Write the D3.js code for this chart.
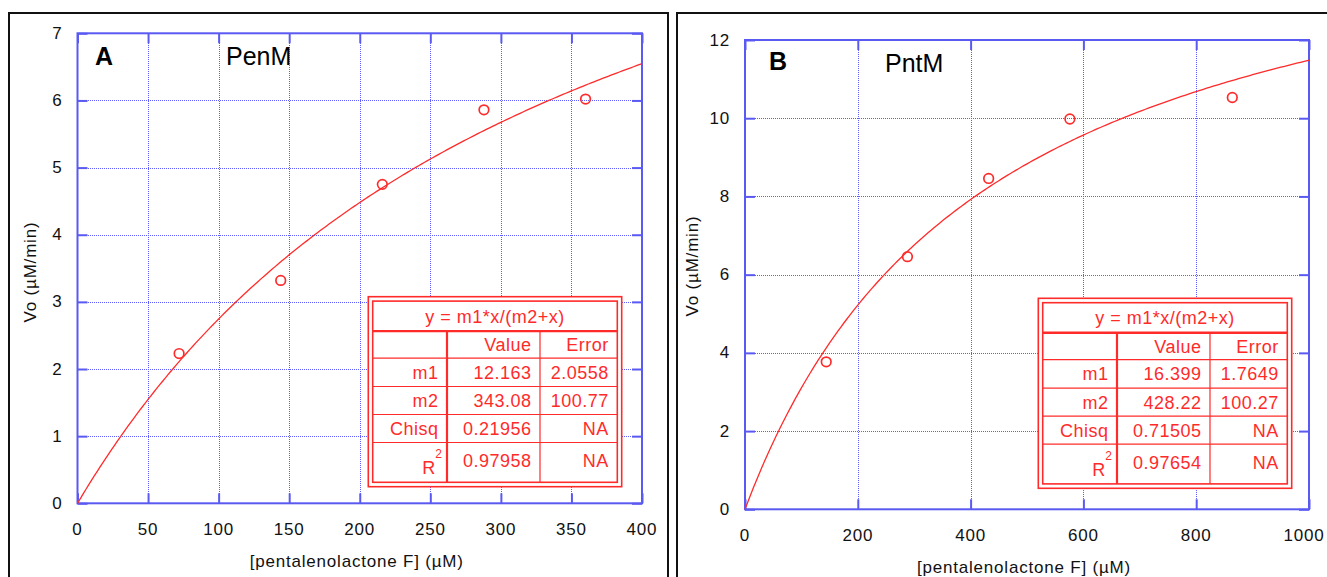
<!DOCTYPE html>
<html>
<head>
<meta charset="utf-8">
<script src="https://cdn.jsdelivr.net/npm/d3@7/dist/d3.min.js"></script>
<style>
  html, body { margin: 0; padding: 0; background: #fff; }
  svg { display: block; }
  text { font-family: "Liberation Sans", Arial, Helvetica, sans-serif; }
</style>
</head>
<body>
<svg id="chart" width="1327" height="577"></svg>
<script>
// ---- Panel A: PenM ----
const penmConc = [72, 144, 216, 288, 360];           // [pentalenolactone F] (µM)
const penmRate = [2.23, 3.32, 4.75, 5.86, 6.02];     // Vo (µM/min)
const penmXTicks = [0, 50, 100, 150, 200, 250, 300, 350, 400];
const penmYTicks = [0, 1, 2, 3, 4, 5, 6, 7];
const penmParamNames = ["m1", "m2"];
const penmParamValues = [12.163, 343.08];
const penmParamErrors = [2.0558, 100.77];
const penmChisq = 0.21956;
const penmR2 = 0.97958;

// ---- Panel B: PntM ----
const pntmConc = [144, 288, 432, 576, 864];
const pntmRate = [3.77, 6.46, 8.46, 9.98, 10.53];
const pntmXTicks = [0, 200, 400, 600, 800, 1000];
const pntmYTicks = [0, 2, 4, 6, 8, 10, 12];
const pntmParamNames = ["m1", "m2"];
const pntmParamValues = [16.399, 428.22];
const pntmParamErrors = [1.7649, 100.27];
const pntmChisq = 0.71505;
const pntmR2 = 0.97654;

const fitEquation = "y = m1*x/(m2+x)";
const xTitle = "[pentalenolactone F] (µM)";
const yTitle = "Vo (µM/min)";

const BLUE = "#5a5af2";
const GRID = "#5c5cff";
const RED = "#ff2b2b";

const svg = d3.select("#chart");
const crisp = v => Math.round(v) + 0.5;

function drawPanel(cfg) {
  const g = svg.append("g");

  // outer black frame (open at the bottom)
  g.append("path")
    .attr("d", `M${cfg.frame.left},600 V${cfg.frame.top} H${cfg.frame.right} V600`)
    .attr("fill", "none").attr("stroke", "#111").attr("stroke-width", 2);

  const x = d3.scaleLinear().domain(cfg.xDomain).range([cfg.plot.left, cfg.plot.right]);
  const y = d3.scaleLinear().domain(cfg.yDomain).range([cfg.plot.bottom, cfg.plot.top]);

  // dotted grid
  g.append("g").attr("shape-rendering", "crispEdges").selectAll("line")
    .data(cfg.xTicks.slice(1, -1)).join("line")
    .attr("x1", d => crisp(x(d))).attr("x2", d => crisp(x(d)))
    .attr("y1", cfg.plot.top).attr("y2", cfg.plot.bottom)
    .attr("stroke", GRID).attr("stroke-width", 1).attr("stroke-dasharray", "1,1");
  g.append("g").attr("shape-rendering", "crispEdges").selectAll("line")
    .data(cfg.yTicks.slice(1, -1)).join("line")
    .attr("y1", d => crisp(y(d))).attr("y2", d => crisp(y(d)))
    .attr("x1", cfg.plot.left).attr("x2", cfg.plot.right)
    .attr("stroke", GRID).attr("stroke-width", 1).attr("stroke-dasharray", "1,1");

  // inward ticks on all four sides
  const T = 10;
  const ax = d3.axisBottom(x).tickValues(cfg.xTicks).tickSize(-T).tickFormat("");
  const axTop = d3.axisTop(x).tickValues(cfg.xTicks).tickSize(-T).tickFormat("");
  const ay = d3.axisLeft(y).tickValues(cfg.yTicks).tickSize(-T).tickFormat("");
  const ayR = d3.axisRight(y).tickValues(cfg.yTicks).tickSize(-T).tickFormat("");
  [[ax, `translate(0,${cfg.plot.bottom})`], [axTop, `translate(0,${cfg.plot.top})`],
   [ay, `translate(${cfg.plot.left},0)`], [ayR, `translate(${cfg.plot.right},0)`]].forEach(([a, t]) => {
    const ag = g.append("g").attr("transform", t).call(a);
    ag.select(".domain").remove();
    ag.selectAll(".tick line").attr("stroke", BLUE).attr("stroke-width", 2);
  });

  // tick labels
  const last = cfg.xTicks[cfg.xTicks.length - 1];
  g.append("g").selectAll("text")
    .data(cfg.xTicks).join("text")
    .attr("x", d => x(d) - (d === last ? cfg.lastTickShift : 0)).attr("y", cfg.plot.bottom + 26)
    .attr("text-anchor", "middle").attr("dominant-baseline", "central")
    .attr("font-size", 17).attr("letter-spacing", 0.8).attr("fill", "#111")
    .text(d => d);
  g.append("g").selectAll("text")
    .data(cfg.yTicks).join("text")
    .attr("x", cfg.plot.left - 15).attr("y", d => y(d))
    .attr("text-anchor", "end").attr("dominant-baseline", "central")
    .attr("font-size", 17).attr("letter-spacing", 0.8).attr("fill", "#111")
    .text(d => d);

  // axis titles
  g.append("text")
    .attr("x", (cfg.plot.left + cfg.plot.right) / 2 - 3).attr("y", cfg.plot.bottom + 58)
    .attr("text-anchor", "middle").attr("dominant-baseline", "central")
    .attr("font-size", 17).attr("letter-spacing", 0.8).attr("fill", "#111")
    .text(xTitle);
  g.append("text")
    .attr("transform", `translate(${cfg.yTitlePos[0]},${cfg.yTitlePos[1]}) rotate(-90)`)
    .attr("text-anchor", "middle").attr("dominant-baseline", "central")
    .attr("font-size", 17).attr("letter-spacing", 0.8).attr("fill", "#111")
    .text(yTitle);

  // plot border
  g.append("rect")
    .attr("x", cfg.plot.left).attr("y", cfg.plot.top)
    .attr("width", cfg.plot.right - cfg.plot.left).attr("height", cfg.plot.bottom - cfg.plot.top)
    .attr("fill", "none").attr("stroke", BLUE).attr("stroke-width", 2);

  // Michaelis–Menten fit from the tabulated parameters
  const [m1, m2] = cfg.params;
  const xs = d3.range(0, cfg.xDomain[1] + 1e-9, cfg.xDomain[1] / 200);
  g.append("path")
    .datum(xs)
    .attr("d", d3.line().x(d => x(d)).y(d => y(m1 * d / (m2 + d))))
    .attr("fill", "none").attr("stroke", RED).attr("stroke-width", 1.3);

  // measured points
  g.append("g").selectAll("circle")
    .data(cfg.conc.map((c, i) => [c, cfg.rate[i]])).join("circle")
    .attr("cx", d => x(d[0])).attr("cy", d => y(d[1])).attr("r", 4.8)
    .attr("fill", "none").attr("stroke", RED).attr("stroke-width", 1.7);

  // panel letter and enzyme name
  g.append("text").attr("x", cfg.letterPos[0]).attr("y", cfg.letterPos[1])
    .attr("font-size", 25).attr("font-weight", "bold").attr("fill", "#000").text(cfg.letter);
  g.append("text").attr("x", cfg.namePos[0]).attr("y", cfg.namePos[1])
    .attr("font-size", 25).attr("fill", "#000").text(cfg.name);

  // fit results table
  const tb = cfg.table;
  const tg = g.append("g").attr("transform", `translate(${tb.x},${tb.y})`);
  const W = 253.4, H = 190, inset = 4.4;
  tg.append("rect").attr("x", 0).attr("y", 0).attr("width", W).attr("height", H)
    .attr("fill", "#fff").attr("stroke", RED).attr("stroke-width", 1.6);
  const iw = W - 2 * inset, ih = H - 2 * inset;
  const ti = tg.append("g").attr("transform", `translate(${inset},${inset})`);
  ti.append("rect").attr("x", 0).attr("y", 0).attr("width", iw).attr("height", ih)
    .attr("fill", "#fff").attr("stroke", RED).attr("stroke-width", 1.6);

  const rowH = [30, 27, 28.4, 28, 28, ih - 30 - 27 - 28.4 - 28 - 28];
  const rowY = [0];
  rowH.forEach((h, i) => rowY.push(rowY[i] + h));
  const colX = [0, 74.3, 167.3, iw];

  // header separator (thick) and row separators
  rowY.slice(1, -1).forEach((ry, i) => {
    ti.append("line").attr("x1", 0).attr("x2", iw).attr("y1", ry).attr("y2", ry)
      .attr("stroke", RED).attr("stroke-width", i === 0 ? 2.4 : 1.2);
  });
  colX.slice(1, -1).forEach((cx, i) => {
    ti.append("line").attr("x1", cx).attr("x2", cx).attr("y1", rowY[1]).attr("y2", ih)
      .attr("stroke", RED).attr("stroke-width", i === 0 ? 2.2 : 1.2);
  });

  const tf = { "font-size": 18, "letter-spacing": 0.5, fill: RED };
  const put = (sel, attrs) => { Object.entries(attrs).forEach(([k, v]) => sel.attr(k, v)); return sel; };

  put(ti.append("text"), tf).attr("x", iw / 2).attr("y", rowY[0] + rowH[0] / 2 + 6.5)
    .attr("text-anchor", "middle").text(fitEquation);

  const labels = ["", ...cfg.paramNames, "Chisq"];
  const values = ["Value", ...cfg.params.map(String), String(cfg.chisq)];
  const errors = ["Error", ...cfg.errors.map(String), "NA"];
  labels.forEach((lab, i) => {
    const base = rowY[i + 1] + rowH[i + 1] / 2 + 6.5;
    put(ti.append("text"), tf).attr("x", colX[1] - 8.5).attr("y", base).attr("text-anchor", "end").text(lab);
    put(ti.append("text"), tf).attr("x", colX[2] - 8.5).attr("y", base).attr("text-anchor", "end").text(values[i]);
    put(ti.append("text"), tf).attr("x", colX[3] - 8.5).attr("y", base).attr("text-anchor", "end").text(errors[i]);
  });
  // R² row
  const rBase = rowY[5] + rowH[5] / 2 + 5;
  const rt = put(ti.append("text"), tf).attr("letter-spacing", 0)
    .attr("x", colX[1] - 5).attr("y", rBase + 7).attr("text-anchor", "end");
  rt.append("tspan").text("R");
  rt.append("tspan").attr("dy", -16).attr("font-size", 12).text("2");
  put(ti.append("text"), tf).attr("x", colX[2] - 8.5).attr("y", rBase).attr("text-anchor", "end").text(String(cfg.r2));
  put(ti.append("text"), tf).attr("x", colX[3] - 8.5).attr("y", rBase).attr("text-anchor", "end").text("NA");
}

drawPanel({
  frame: { left: 9, top: 13, right: 668 },
  plot: { left: 77.5, right: 642, top: 33.3, bottom: 503.3 },
  xDomain: [0, 400], yDomain: [0, 7],
  xTicks: penmXTicks, yTicks: penmYTicks, lastTickShift: 0,
  conc: penmConc, rate: penmRate,
  params: penmParamValues, errors: penmParamErrors, paramNames: penmParamNames,
  chisq: penmChisq, r2: penmR2,
  letter: "A", letterPos: [95, 65], name: "PenM", namePos: [226, 65],
  yTitlePos: [30, 272],
  table: { x: 368.3, y: 296.7 }
});

drawPanel({
  frame: { left: 677, top: 13, right: 1340 },
  plot: { left: 745, right: 1309, top: 40, bottom: 509.3 },
  xDomain: [0, 1000], yDomain: [0, 12],
  xTicks: pntmXTicks, yTicks: pntmYTicks, lastTickShift: 5,
  conc: pntmConc, rate: pntmRate,
  params: pntmParamValues, errors: pntmParamErrors, paramNames: pntmParamNames,
  chisq: pntmChisq, r2: pntmR2,
  letter: "B", letterPos: [769, 70], name: "PntM", namePos: [885, 72],
  yTitlePos: [692, 266],
  table: { x: 1038.3, y: 298.3 }
});
</script>
</body>
</html>
